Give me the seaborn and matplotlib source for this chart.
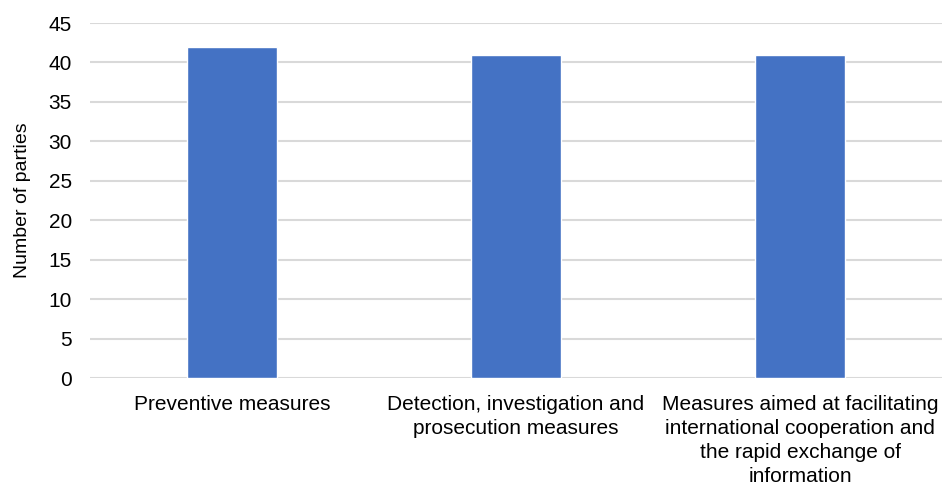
import matplotlib
matplotlib.use("Agg")
import matplotlib.pyplot as plt
import seaborn as sns
import pandas as pd

categories = [
    "Preventive measures",
    "Detection, investigation and\nprosecution measures",
    "Measures aimed at facilitating\ninternational cooperation and\nthe rapid exchange of\ninformation",
]
parties = [42, 41, 41]
y_ticks = [0, 5, 10, 15, 20, 25, 30, 35, 40, 45]

sns.set_theme(style="white")
plt.rcParams["font.family"] = ["Liberation Sans", "DejaVu Sans"]

df = pd.DataFrame({"category": categories, "parties": parties})

fig = plt.figure(figsize=(9.43, 4.86), dpi=100)
ax = fig.add_axes([90 / 943, 1 - 378 / 486, 852 / 943, 355 / 486])

sns.barplot(data=df, x="category", y="parties", color="#4472C4",
            width=0.315, saturation=1, ax=ax, zorder=3)

ax.set_ylim(0, 45)
ax.set_yticks(y_ticks)
ax.set_xlim(-0.5, 2.5)
ax.yaxis.grid(True, color="#d9d9d9", linewidth=1.5, zorder=0)
ax.set_axisbelow(True)
for s in ax.spines.values():
    s.set_visible(False)

ax.tick_params(axis="both", length=0, labelsize=15, colors="#000000")
ax.tick_params(axis="x", pad=12.5)
ax.tick_params(axis="y", pad=13)
for lab in ax.get_xticklabels():
    lab.set_linespacing(1.32)
    lab.set_verticalalignment("top")
ax.set_xlabel("")
ax.set_ylabel("Number of parties", fontsize=14, color="#000000", labelpad=13)

fig.savefig("out.png", dpi=100, facecolor="white")
